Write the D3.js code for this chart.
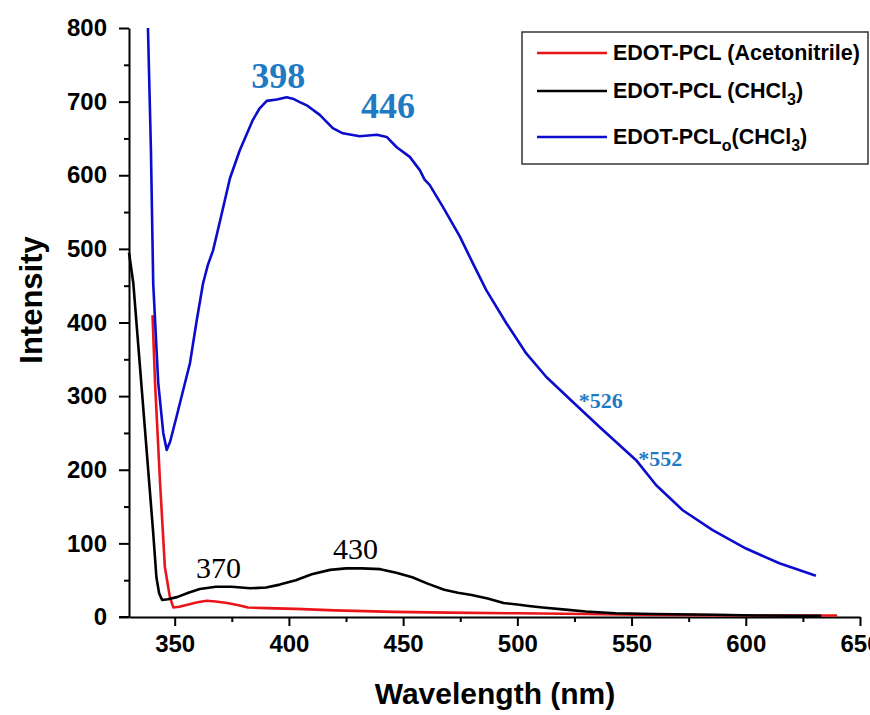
<!DOCTYPE html>
<html>
<head>
<meta charset="utf-8">
<title>Emission spectra</title>
<script src="https://cdn.jsdelivr.net/npm/d3@7"></script>
<style>
  body { margin: 0; background: #fff; }
  svg { display: block; }
  .axis text { font-family: "Liberation Sans", Arial, sans-serif; font-weight: bold; font-size: 24px; fill: #000; }
  .axis path, .axis line { stroke: #000; stroke-width: 2px; }
</style>
</head>
<body>
<div id="chart"></div>
<script>
// series: [wavelength nm, intensity]
var acetonitrile = [[340.3,410],[341.4,318],[343.6,182],[345.7,68],[347.9,27],[349.4,13],[352,14],[356,17],[360,20],
  [364,22],[368,21],[373,19],[378,16],[382,13],[390,12],[403,11],[420,9],[446,7],[470,6],[500,5],[530,4],
  [553,3],[580,2.5],[610,2],[640,2]];
var chcl3 = [[330,495],[331.9,453],[334.8,340],[337.7,227],[340.6,114],[342,54],[343.2,32],[344.5,23],[347,24],
  [351,27],[356,33],[361,38],[368,41],[375,41],[383,39],[390,40],[396,44],[403,50],[410,58],[418,64],[425,66],
  [432,66],[440,65],[447,60],[454,54],[461,45],[468,37],[474,33],[480,30],[487,25],[494,19],[500,17],[505,15],
  [511,13],[521,10],[530,7.5],[543,5],[560,4],[586,3],[605,2],[629,1.5],[633,1.5]];
var pclO = [[338.3,800],[339.6,634],[340.6,453],[342.8,318],[345,250],[346.5,227],[348,238],[350.8,272],
  [356.7,345],[359.5,400],[362.4,453],[364.5,478],[366.8,498],[370,540],[374.2,596],[378.5,634],[384.2,675],
  [387,690],[390.3,701],[394.7,703],[399,706],[401.7,704],[405,699],[407.8,695],[413.5,682],[419.2,664],
  [423.6,657],[431,653],[438.5,655],[442.8,652],[447.2,638],[452.9,625],[457.3,607],[459.4,594],[461.6,587],
  [467.4,557],[474.8,517],[480.6,480],[486.4,444],[495.2,399],[503.9,358],[512.7,326],[524.3,292],[536,258],
  [552,213],[560.8,179],[572.4,145],[585.5,118],[600.1,93],[614.7,73],[630.7,56]];

var xTicks = [350, 400, 450, 500, 550, 600, 650];
var xMinor = [375, 425, 475, 525, 575, 625];
var yTicks = [0, 100, 200, 300, 400, 500, 600, 700, 800];
var yMinor = [50, 150, 250, 350, 450, 550, 650, 750];

var seriesNames = ["EDOT-PCL (Acetonitrile)", "EDOT-PCL (CHCl3)", "EDOT-PCLo(CHCl3)"];
var seriesColors = ["#e8161a", "#000000", "#0c0ccc"];

// peak labels: [x, y, text]
var blueLabels = [[398, 706, "398"], [446, 665, "446"]];
var blueStars = [[526, 292, "*526"], [552, 213, "*552"]];
var blackLabels = [[370, 41, "370"], [430, 66, "430"]];

var W = 870, H = 715;
var svg = d3.select("#chart").append("svg").attr("width", W).attr("height", H);

var x = d3.scaleLinear().domain([330, 650]).range([129, 860]);
var y = d3.scaleLinear().domain([0, 800]).range([617, 28]);

// axes
svg.append("g").attr("class", "axis").attr("transform", "translate(0,617)")
  .call(d3.axisBottom(x).tickValues(xTicks).tickSize(9).tickSizeOuter(0).tickPadding(9).tickFormat(d3.format("d")));
svg.append("g").attr("class", "axis").attr("transform", "translate(0,617)")
  .call(d3.axisBottom(x).tickValues(xMinor).tickSize(5).tickFormat("")).select(".domain").remove();
svg.append("g").attr("class", "axis").attr("transform", "translate(129,0)")
  .call(d3.axisLeft(y).tickValues(yTicks).tickSize(10).tickSizeOuter(0).tickPadding(12).tickFormat(d3.format("d")));
svg.append("g").attr("class", "axis").attr("transform", "translate(129,0)")
  .call(d3.axisLeft(y).tickValues(yMinor).tickSize(5).tickFormat("")).select(".domain").remove();

// extend x axis line to meet the 0 tick
svg.append("line").attr("x1", 119).attr("x2", 129).attr("y1", 617).attr("y2", 617)
  .attr("stroke", "#000").attr("stroke-width", 2);

svg.append("text").attr("x", 495).attr("y", 704).attr("text-anchor", "middle")
  .style("font-family", "Liberation Sans, Arial, sans-serif").style("font-weight", "bold").style("font-size", "30px")
  .text("Wavelength (nm)");
svg.append("text").attr("transform", "translate(42,300) rotate(-90)").attr("text-anchor", "middle")
  .style("font-family", "Liberation Sans, Arial, sans-serif").style("font-weight", "bold").style("font-size", "31px")
  .text("Intensity");

// lines
var line = d3.line().x(function(d){ return x(d[0]); }).y(function(d){ return y(d[1]); });
var data = [acetonitrile, chcl3, pclO];
svg.selectAll(".series").data(data).enter().append("path")
  .attr("class", "series")
  .attr("d", line)
  .attr("fill", "none")
  .attr("stroke", function(d, i){ return seriesColors[i]; })
  .attr("stroke-width", 2.6)
  .attr("stroke-linejoin", "round");

// annotations
var serif = "Liberation Serif, DejaVu Serif, serif";
svg.selectAll(".bl").data(blueLabels).enter().append("text")
  .attr("x", function(d){ return x(d[0]) - 6; })
  .attr("y", function(d){ return y(d[1]) - 9; })
  .attr("text-anchor", "middle")
  .style("font-family", serif).style("font-weight", "bold").style("font-size", "36px")
  .style("fill", "#1f7ac4")
  .text(function(d){ return d[2]; });
svg.selectAll(".bs").data(blueStars).enter().append("text")
  .attr("x", function(d){ return x(d[0]) + 2; })
  .attr("y", function(d){ return y(d[1]) + 6; })
  .style("font-family", serif).style("font-weight", "bold").style("font-size", "22px")
  .style("fill", "#1f7ac4")
  .text(function(d){ return d[2]; });
svg.selectAll(".kl").data(blackLabels).enter().append("text")
  .attr("x", function(d){ return x(d[0]) - 2; })
  .attr("y", function(d){ return y(d[1]) - 9; })
  .attr("text-anchor", "middle")
  .style("font-family", serif).style("font-size", "30px")
  .style("fill", "#000")
  .text(function(d){ return d[2]; });

// legend
var lg = svg.append("g");
lg.append("rect").attr("x", 522).attr("y", 32).attr("width", 346).attr("height", 132)
  .attr("fill", "#fff").attr("stroke", "#333").attr("stroke-width", 1.5);
var rowY = [53, 91, 137];
seriesNames.forEach(function(name, i){
  lg.append("line").attr("x1", 537).attr("x2", 607).attr("y1", rowY[i]).attr("y2", rowY[i])
    .attr("stroke", seriesColors[i]).attr("stroke-width", 2.6);
  var t = lg.append("text").attr("x", 613).attr("y", rowY[i] + 7)
    .style("font-family", "Liberation Sans, Arial, sans-serif").style("font-weight", "bold").style("font-size", "21.5px");
  if (i === 0) {
    t.text(name);
  } else if (i === 1) {
    t.append("tspan").text("EDOT-PCL (CHCl");
    t.append("tspan").attr("dy", 7).style("font-size", "16px").text("3");
    t.append("tspan").attr("dy", -7).text(")");
  } else {
    t.append("tspan").text("EDOT-PCL");
    t.append("tspan").attr("dy", 7).style("font-size", "16px").text("o");
    t.append("tspan").attr("dy", -7).text("(CHCl");
    t.append("tspan").attr("dy", 7).style("font-size", "16px").text("3");
    t.append("tspan").attr("dy", -7).text(")");
  }
});
</script>
</body>
</html>
